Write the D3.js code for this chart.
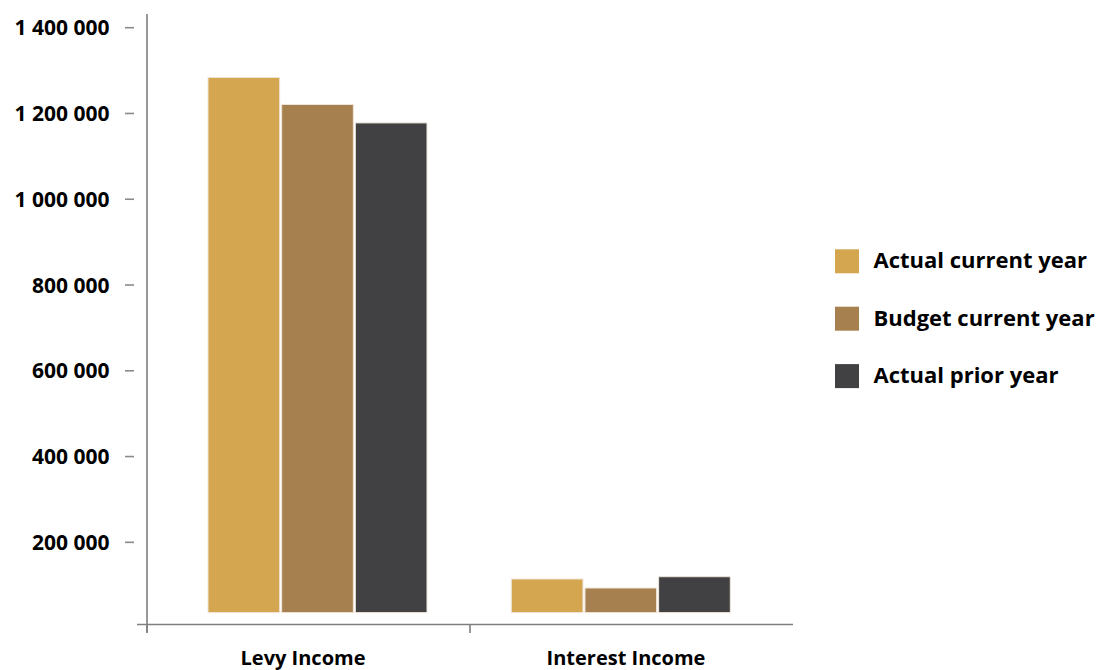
<!DOCTYPE html>
<html>
<head>
<meta charset="utf-8">
<script src="https://cdn.jsdelivr.net/npm/d3@7"></script>
<style>
  html, body { margin: 0; padding: 0; background: #ffffff; }
  svg { display: block; }
  text { font-family: "Open Sans", "Noto Sans", sans-serif; font-weight: 700; fill: #000; }
</style>
</head>
<body>
<svg id="chart" width="1102" height="670"></svg>
<script>
// ---- data ----
const categories = ["Levy Income", "Interest Income"];
const seriesNames = ["Actual current year", "Budget current year", "Actual prior year"];
const actualCurrentYear = [1284000, 114500];
const budgetCurrentYear = [1221000, 93500];
const actualPriorYear = [1178000, 119800];
const yTickValues = [200000, 400000, 600000, 800000, 1000000, 1200000, 1400000];
const seriesColors = ["#D3A64F", "#A6804E", "#414143"];

const seriesValues = [actualCurrentYear, budgetCurrentYear, actualPriorYear];

// ---- layout ----
const svg = d3.select("#chart");
const plotLeft = 147, plotRight = 793;
const yZero = 628.1, yTop = 27.7;
const axisY = 624.5;
const barBaseGap = 15.5;

const y = d3.scaleLinear().domain([0, 1400000]).range([yZero, yTop]);
const xAxisScale = d3.scaleBand().domain(categories).range([plotLeft, plotRight]);
const xGroup = d3.scalePoint().domain(categories).range([317.5, 620.8]);
const xSeries = d3.scaleBand().domain(seriesNames).range([-110.5, 110.5]).paddingInner(0);

const axisColor = "#7f7f7f";

// y axis line
svg.append("line")
  .attr("x1", plotLeft).attr("x2", plotLeft)
  .attr("y1", 14).attr("y2", 632.5)
  .attr("stroke", axisColor).attr("stroke-width", 1.6);

// x axis line
svg.append("line")
  .attr("x1", 137).attr("x2", plotRight)
  .attr("y1", axisY).attr("y2", axisY)
  .attr("stroke", axisColor).attr("stroke-width", 1.6);

// x ticks at band boundaries
const xTickPos = categories.map(c => xAxisScale(c));
svg.selectAll(".xtick").data(xTickPos).join("line")
  .attr("class", "xtick")
  .attr("x1", d => d).attr("x2", d => d)
  .attr("y1", axisY).attr("y2", 633)
  .attr("stroke", axisColor).attr("stroke-width", 1.6);

// y ticks + labels
const fmt = v => d3.format(",")(v).replace(/,/g, " ");
const yt = svg.selectAll(".ytick").data(yTickValues).join("g").attr("class", "ytick")
  .attr("transform", d => `translate(0,${y(d)})`);
yt.append("line")
  .attr("x1", 125).attr("x2", 134)
  .attr("stroke", "#8a8a8a").attr("stroke-width", 1.6);
yt.append("text")
  .attr("x", 109.5).attr("dy", "0.36em")
  .attr("text-anchor", "end")
  .style("font-size", "21px")
  .text(d => fmt(d));

// bars
const barData = [];
categories.forEach((c, ci) => {
  seriesNames.forEach((s, si) => {
    barData.push({ cat: c, series: s, si, value: seriesValues[si][ci] });
  });
});
svg.selectAll(".bar").data(barData).join("rect")
  .attr("class", "bar")
  .attr("x", d => xGroup(d.cat) + xSeries(d.series) + 1)
  .attr("width", xSeries.bandwidth() - 2)
  .attr("y", d => y(d.value))
  .attr("height", d => (yZero - barBaseGap) - y(d.value))
  .attr("fill", d => seriesColors[d.si])
  .attr("stroke", "#efe6da")
  .attr("stroke-width", 1);

// category labels
svg.selectAll(".cat").data(categories).join("text")
  .attr("class", "cat")
  .attr("x", d => xAxisScale(d) + xAxisScale.bandwidth() / 2 - 5.5)
  .attr("y", 665)
  .attr("text-anchor", "middle")
  .style("font-size", "20px")
  .text(d => d);

// legend
const legend = svg.selectAll(".leg").data(seriesNames).join("g").attr("class", "leg")
  .attr("transform", (d, i) => `translate(835,${249.3 + i * 57.4})`);
legend.append("rect")
  .attr("width", 24).attr("height", 24)
  .attr("fill", (d, i) => seriesColors[i]);
legend.append("text")
  .attr("x", 38.5).attr("y", 18.8)
  .style("font-size", "22px")
  .text(d => d);
</script>
</body>
</html>
